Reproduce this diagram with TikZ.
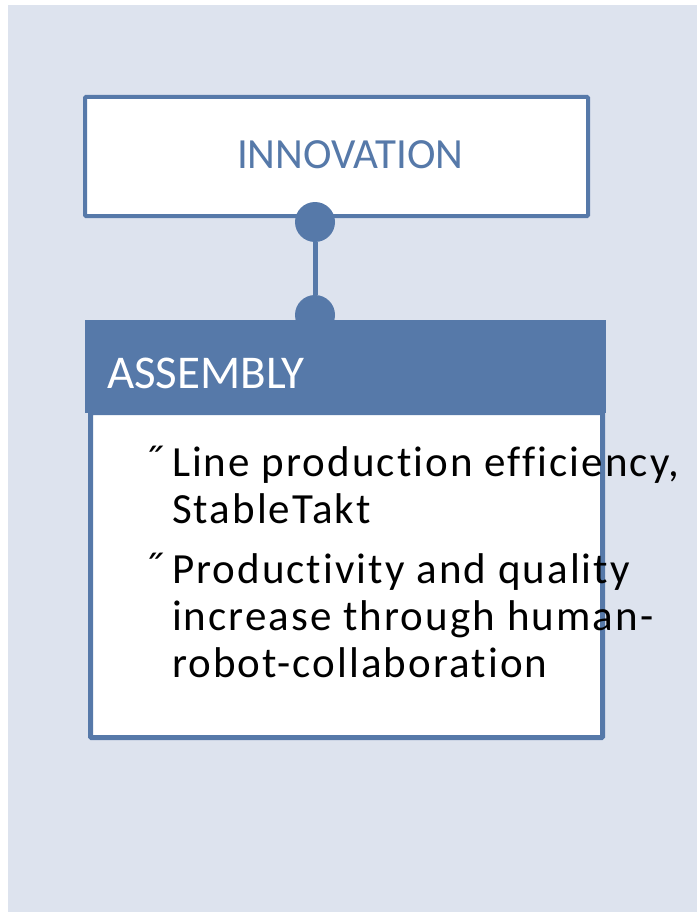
\documentclass[tikz,border=0pt]{standalone}
\usepackage{fontspec}
\setmainfont{Carlito}
\usetikzlibrary{positioning}
\definecolor{frameblue}{HTML}{5679A9}
\definecolor{paleblue}{HTML}{DDE3EE}

\begin{document}
\begin{tikzpicture}[
    x=1pt, y=-1pt,
    every node/.style={inner sep=0pt, outer sep=0pt},
    topbox/.style={draw=frameblue, line width=4pt, rounded corners=1pt, fill=white,
        minimum width=503pt, minimum height=119pt},
    joint/.style={circle, fill=frameblue, minimum size=40pt},
    headbar/.style={fill=frameblue, minimum width=521pt, minimum height=93pt},
    bodybox/.style={draw=frameblue, line width=5pt, rounded corners=1pt, fill=white,
        minimum width=512pt, minimum height=325pt},
    title/.style={font=\fontsize{43}{50}\selectfont, anchor=base west},
    itemtext/.style={font=\fontsize{43}{47}\selectfont\addfontfeature{LetterSpace=4.8, Ligatures=NoCommon},
        align=left, anchor=base west},
    bullet/.style={font=\fontsize{46}{47}\selectfont, anchor=base west}]

    \useasboundingbox (0,0) rectangle (697,912);
    \fill[white] (0,0) rectangle (697,912);
    \fill[paleblue] (8,5) rectangle (697,912);

    % upper box and its joint
    \node[topbox] (innov) at (336.5,156.5) {};
    \node[title, text=frameblue] (innovtext) at (237,168) {INNOVATION};
    \node[joint] (jtop) at (315,222) {};
    \node[joint] (jbot) at (315,315) {};
    \draw[frameblue, line width=5pt] (jtop) -- (jbot);

    % lower box
    \node[bodybox] (body) at (346.5,575) {};
    \node[headbar] (head) at (345.5,366.5) {};
    \node[title, text=white, font=\fontsize{47}{50}\selectfont] (headtext) at (107,388) {ASSEMBLY};

    % last baseline of each item
    \node[bullet] (b1) at (143,477) {˝};
    \node[itemtext] (item1) at (172,523) {Line production efficiency,\\StableTakt};
    \node[bullet] (b2) at (143,584) {˝};
    \node[itemtext] (item2) at (172,677) {Productivity and quality\\increase through human-\\robot-collaboration};

\end{tikzpicture}
\end{document}
